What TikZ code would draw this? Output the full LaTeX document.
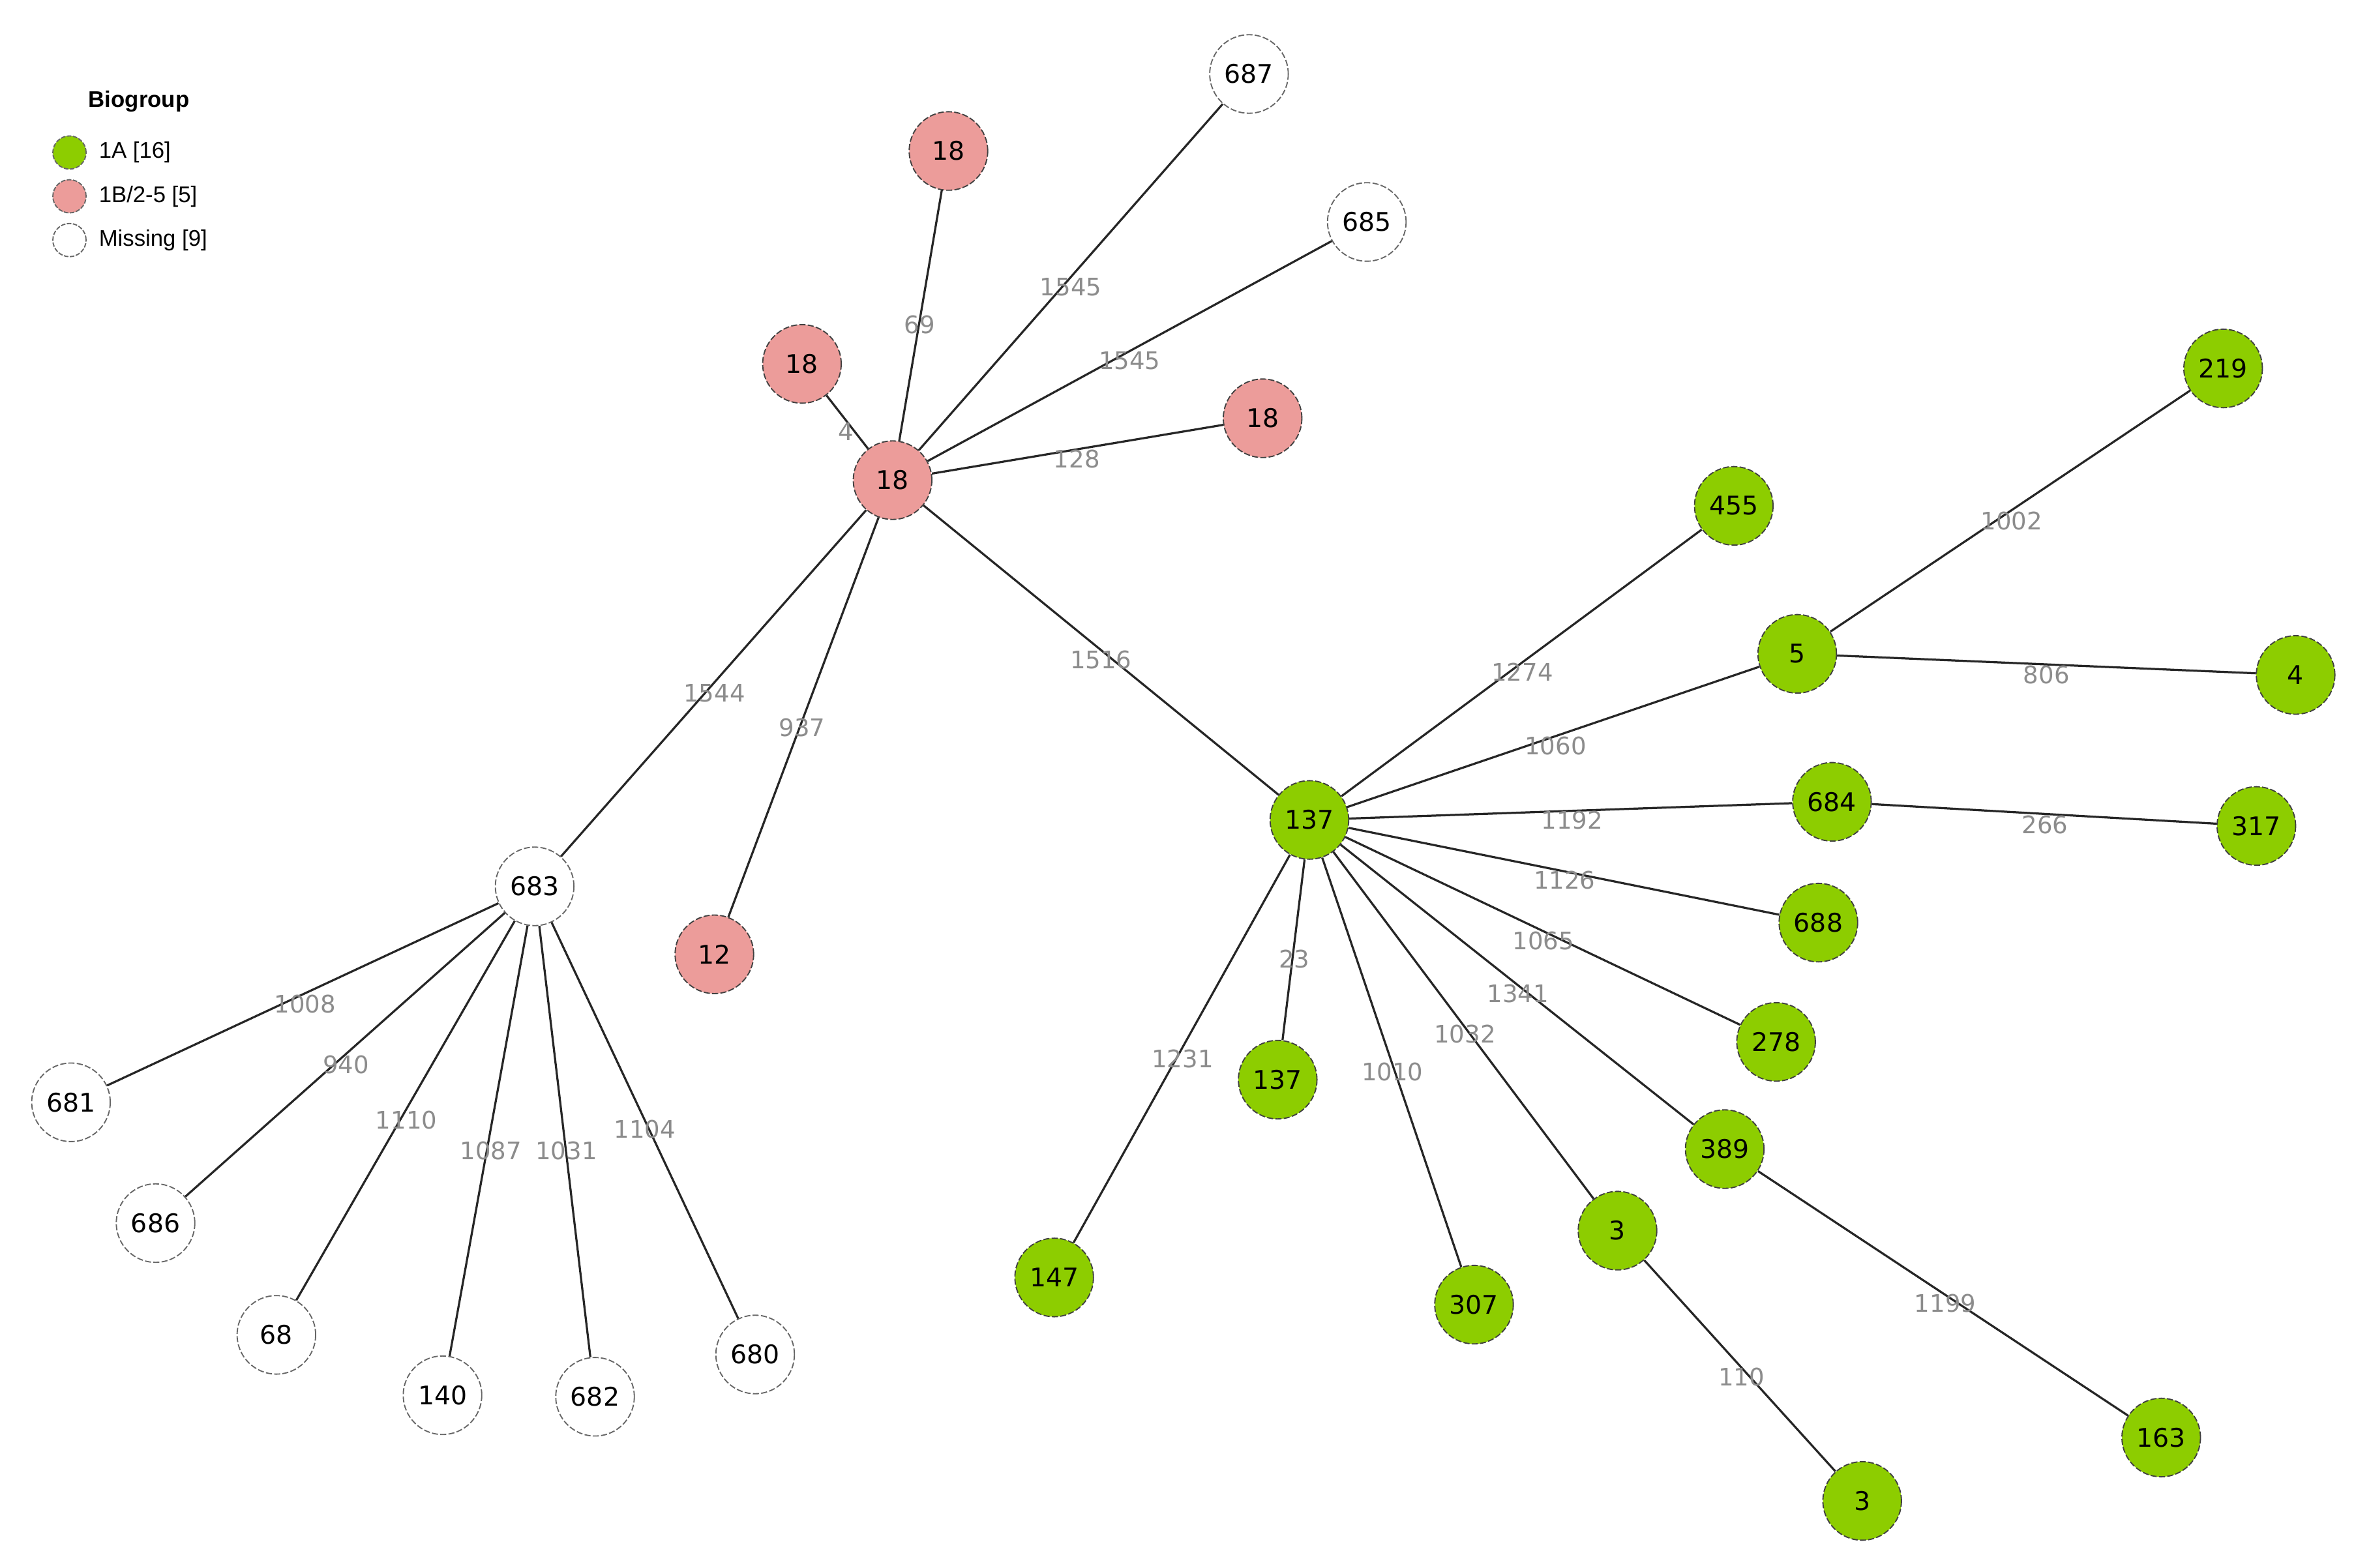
\documentclass[tikz,border=0pt]{standalone}
\usepackage{fontspec}
\setmainfont{DejaVu Sans}
\newfontfamily\legfont{Liberation Sans}
\definecolor{gfill}{HTML}{8DCD00}
\definecolor{pfill}{HTML}{EC9C9A}
\definecolor{lblgray}{HTML}{8C8C8C}
\begin{document}
\begin{tikzpicture}[x=1pt,y=-1pt,
  nd/.style={circle,minimum size=52pt,inner sep=0pt,draw=black!75,line width=0.8pt,dash pattern=on 4pt off 1.5pt,font=\fontsize{17}{20}\selectfont},
  gn/.style={nd,fill=gfill},
  pn/.style={nd,fill=pfill},
  wn/.style={nd,fill=white,draw=black!60},
  ed/.style={line width=1.4pt,black!85},
  el/.style={font=\fontsize{16}{19}\selectfont,text=lblgray,inner sep=0pt},
  lg/.style={circle,minimum size=22pt,inner sep=0pt,draw=black!60,line width=0.8pt,dash pattern=on 3pt off 1pt}]
\useasboundingbox (0,0) rectangle (1560,1038);
% legend
\node[font=\legfont\bfseries\fontsize{15}{18}\selectfont] (lt) at (92,67) {Biogroup};
\node[lg,fill=gfill] (l1) at (46,101) {};
\node[lg,fill=pfill] (l2) at (46,130) {};
\node[lg,fill=white] (l3) at (46,159) {};
\node[anchor=west,font=\legfont\fontsize{15}{18}\selectfont] (t1) at (62,101) {1A [16]};
\node[anchor=west,font=\legfont\fontsize{15}{18}\selectfont] (t2) at (62,130) {1B/2-5 [5]};
\node[anchor=west,font=\legfont\fontsize{15}{18}\selectfont] (t3) at (62,159) {Missing [9]};
% nodes
\node[wn] (n687) at (827,49) {687};
\node[pn] (r18a) at (628,100) {18};
\node[wn] (n685) at (905,147) {685};
\node[pn] (r18b) at (531,241) {18};
\node[pn] (r18c) at (836,277) {18};
\node[pn] (r18) at (591,318) {18};
\node[gn] (g219) at (1472,244) {219};
\node[gn] (g455) at (1148,335) {455};
\node[gn] (g5) at (1190,433) {5};
\node[gn] (g4) at (1520,447) {4};
\node[gn] (g684) at (1213,531) {684};
\node[gn] (g317) at (1494,547) {317};
\node[gn] (g137) at (867,543) {137};
\node[wn] (n683) at (354,587) {683};
\node[pn] (r12) at (473,632) {12};
\node[gn] (g688) at (1204,611) {688};
\node[gn] (g278) at (1176,690) {278};
\node[gn] (g137b) at (846,715) {137};
\node[gn] (g389) at (1142,761) {389};
\node[wn] (n681) at (47,730) {681};
\node[wn] (n686) at (103,810) {686};
\node[wn] (n68) at (183,884) {68};
\node[wn] (n140) at (293,924) {140};
\node[wn] (n682) at (394,925) {682};
\node[wn] (n680) at (500,897) {680};
\node[gn] (g147) at (698,846) {147};
\node[gn] (g307) at (976,864) {307};
\node[gn] (g3a) at (1071,815) {3};
\node[gn] (g3b) at (1233,994) {3};
\node[gn] (g163) at (1431,952) {163};
% edges
\begin{scope}[on background layer/.style={}]
\end{scope}
\draw[ed] (r18) -- (r18a);
\draw[ed] (r18) -- (n687);
\draw[ed] (r18) -- (n685);
\draw[ed] (r18) -- (r18b);
\draw[ed] (r18) -- (r18c);
\draw[ed] (r18) -- (n683);
\draw[ed] (r18) -- (r12);
\draw[ed] (r18) -- (g137);
\draw[ed] (g137) -- (g455);
\draw[ed] (g137) -- (g5);
\draw[ed] (g5) -- (g219);
\draw[ed] (g5) -- (g4);
\draw[ed] (g137) -- (g684);
\draw[ed] (g684) -- (g317);
\draw[ed] (g137) -- (g688);
\draw[ed] (g137) -- (g278);
\draw[ed] (g137) -- (g389);
\draw[ed] (g389) -- (g163);
\draw[ed] (g137) -- (g3a);
\draw[ed] (g3a) -- (g3b);
\draw[ed] (g137) -- (g307);
\draw[ed] (g137) -- (g137b);
\draw[ed] (g137) -- (g147);
\draw[ed] (n683) -- (n681);
\draw[ed] (n683) -- (n686);
\draw[ed] (n683) -- (n68);
\draw[ed] (n683) -- (n140);
\draw[ed] (n683) -- (n682);
\draw[ed] (n683) -- (n680);
% edge labels
\node[el] (e1) at (609,215) {69};
\node[el] (e2) at (709,190) {1545};
\node[el] (e3) at (748,239) {1545};
\node[el] (e4) at (560,286) {4};
\node[el] (e5) at (713,304) {128};
\node[el] (e6) at (473,459) {1544};
\node[el] (e7) at (531,482) {937};
\node[el] (e8) at (729,437) {1516};
\node[el] (e9) at (1008,445) {1274};
\node[el] (e10) at (1332,345) {1002};
\node[el] (e11) at (1355,447) {806};
\node[el] (e12) at (1030,494) {1060};
\node[el] (e13) at (1041,543) {1192};
\node[el] (e14) at (1354,546) {266};
\node[el] (e15) at (1036,583) {1126};
\node[el] (e16) at (1022,623) {1065};
\node[el] (e17) at (1005,658) {1341};
\node[el] (e18) at (970,685) {1032};
\node[el] (e19) at (857,635) {23};
\node[el] (e20) at (783,701) {1231};
\node[el] (e21) at (922,710) {1010};
\node[el] (e22) at (1288,863) {1199};
\node[el] (e23) at (1153,912) {110};
\node[el] (e24) at (202,665) {1008};
\node[el] (e25) at (229,705) {940};
\node[el] (e26) at (269,742) {1110};
\node[el] (e27) at (325,762) {1087};
\node[el] (e28) at (375,762) {1031};
\node[el] (e29) at (427,748) {1104};
\end{tikzpicture}
\end{document}
